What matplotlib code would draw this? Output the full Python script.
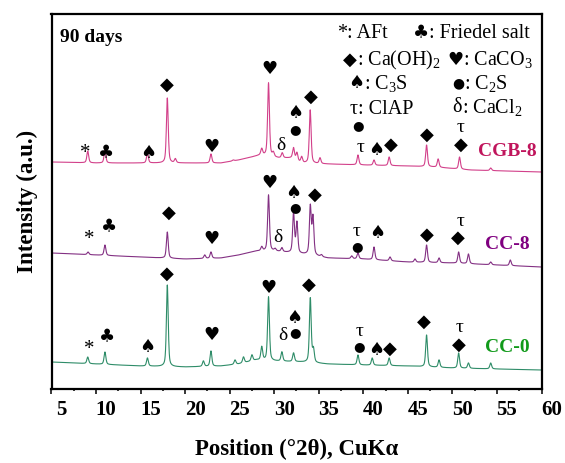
import matplotlib
matplotlib.use("Agg")
import matplotlib.pyplot as plt
import numpy as np
from matplotlib.ticker import MultipleLocator
from matplotlib.transforms import ScaledTranslation

plt.rcParams['font.family'] = ['Liberation Serif', 'DejaVu Sans']
plt.rcParams['mathtext.default'] = 'regular'

# ---- data (2theta in degrees, intensity in a.u. incl. offset) ----
tt = np.linspace(5, 60, 2751)

cgb8_base_x = [5, 10, 15, 20, 24, 26, 27.5, 28.5, 30.5, 32, 33, 36, 40, 45, 48, 52, 56, 60]
cgb8_base_y = [227, 226, 226, 226, 226, 229, 232, 234, 231, 231, 226, 225, 224, 223, 222, 219, 218, 217]
cgb8_pk_x = [9.07, 11.0, 15.77, 18.0, 18.9, 22.9, 25.4, 28.6, 29.36, 29.9, 30.9, 32.17, 32.55, 33.08,
             34.04, 35.14, 39.4, 41.2, 42.9, 47.1, 48.4, 50.8, 54.3]
cgb8_pk_y = [238, 239, 236, 291, 230, 235, 229, 240, 306, 236, 236, 241, 236, 232,
             279, 231, 234, 229, 232, 244, 230, 232, 221]

cc8_base_x = [5, 10, 15, 20, 24, 26, 28, 30, 32, 34, 36, 40, 45, 50, 55, 60]
cc8_base_y = [136, 134, 132, 130, 131, 134, 138, 138, 136, 134, 131, 130, 127, 126, 124, 122]
cc8_pk_x = [9.1, 11.0, 18.0, 22.2, 22.9, 28.6, 29.36, 30.1, 30.86, 32.17, 32.55, 34.05, 34.35,
            35.3, 38.7, 39.4, 41.2, 43.0, 45.8, 47.1, 48.5, 50.7, 51.8, 54.3, 56.5]
cc8_pk_y = [137, 144, 157, 134, 137, 142, 194, 140, 141, 176, 166, 182, 171,
            134, 133, 136, 142, 132, 130, 144, 131, 137, 135, 127, 129]

cc0_base_x = [5, 10, 15, 20, 24, 26, 28, 30, 33, 36, 40, 45, 50, 55, 60]
cc0_base_y = [27, 25, 23, 22, 23, 25, 29, 28, 27, 25, 24, 23, 21, 20, 19]
cc0_pk_x = [9.07, 11.0, 15.77, 18.0, 22.05, 22.9, 25.6, 26.55, 27.5, 28.6, 29.36, 30.86, 32.17,
            34.05, 34.4, 39.4, 41.0, 42.9, 47.1, 48.5, 50.7, 51.8, 54.3]
cc0_pk_y = [32, 37, 31, 104, 28, 38, 29, 32, 34, 42, 92, 37, 36,
            91, 39, 34, 31, 31, 54, 29, 36, 26, 26]

# phase marks: (symbol, 2theta, intensity)
cgb8_marks = [('*', 8.76, 238), ('♣', 11.12, 236), ('♠', 15.87, 236), ('◆', 18.0, 304),
              ('♥', 22.9, 242), ('♥', 29.45, 320), ('δ', 30.76, 243), ('♠', 32.41, 276),
              ('●', 32.33, 259), ('◆', 34.13, 292), ('●', 39.44, 263), ('τ', 39.74, 242),
              ('♠', 41.5, 239), ('◆', 43.07, 244), ('◆', 47.11, 254), ('τ', 50.96, 262),
              ('◆', 50.96, 244)]
cc8_marks = [('*', 9.21, 152), ('♣', 11.49, 162), ('◆', 18.19, 176), ('♥', 22.9, 150),
             ('♥', 29.45, 206), ('δ', 30.46, 151), ('♠', 32.1, 196), ('●', 32.33, 181),
             ('◆', 34.58, 194), ('τ', 39.29, 157), ('●', 39.29, 142), ('♠', 41.53, 156),
             ('◆', 47.15, 154), ('τ', 50.96, 167), ('◆', 50.63, 151)]
cc0_marks = [('*', 9.21, 42), ('♣', 11.2, 52), ('♠', 15.75, 42), ('◆', 18.0, 115),
             ('♥', 22.98, 54), ('♥', 29.33, 101), ('δ', 30.95, 53), ('♠', 32.25, 71),
             ('●', 32.33, 56), ('◆', 33.94, 104), ('τ', 39.52, 57), ('●', 39.52, 42),
             ('♠', 41.42, 39), ('◆', 43.0, 40), ('◆', 46.85, 67), ('τ', 50.77, 62),
             ('◆', 50.77, 44)]

names = ['CGB-8', 'CC-8', 'CC-0']
name_y = [237, 144, 42]
line_cols = ['#D2408A', '#833083', '#2E8C68']
name_cols = ['#C0155C', '#800080', '#119A1A']

W = 0.12  # peak half width (deg)


def pattern(bx, by, px, py):
    y = np.interp(tt, bx, by)
    for p, top in zip(px, py):
        h = top - np.interp(p, bx, by)
        d = (tt - p) / W
        y = y + h * (0.5 * np.exp(-np.log(2) * d**2) + 0.5 / (1 + d**2))
    return y


fig = plt.figure(figsize=(5.65, 4.63), dpi=100)
ax = fig.add_axes([51.5/565, 1 - 389/463, 490/565, 375/463])

curves = [pattern(cgb8_base_x, cgb8_base_y, cgb8_pk_x, cgb8_pk_y),
          pattern(cc8_base_x, cc8_base_y, cc8_pk_x, cc8_pk_y),
          pattern(cc0_base_x, cc0_base_y, cc0_pk_x, cc0_pk_y)]
for y, c in zip(curves, line_cols):
    ax.plot(tt, y, color=c, lw=0.8)


def mark(sym, x, y):
    if sym in '♣♠♥◆':
        ax.text(x, y, sym, family='DejaVu Sans', fontsize=13, ha='center', va='center')
    elif sym == '●':
        ax.text(x, y, sym, family='DejaVu Sans', fontsize=9.5, ha='center', va='center')
    elif sym == '*':
        ax.text(x, y - 3, sym, fontsize=15, ha='center', va='center')
    else:
        ax.text(x, y, sym, fontsize=14, ha='center', va='center')


for ms in [cgb8_marks, cc8_marks, cc0_marks]:
    for s, x, y in ms:
        mark(s, x, y)

for n, yy, c in zip(names, name_y, name_cols):
    ax.text(56.2, yy, n, color=c, fontsize=14, fontweight='bold', ha='center', va='center')

ax.text((60 - 51.5)/490, (389 - 38)/375, '90 days', transform=ax.transAxes,
        fontsize=14, fontweight='bold', ha='left', va='center')

# legend of phases
leg = [('*', ': AFt', 337, 33), ('♣', ': Friedel salt', 413, 33),
       ('◆', ': Ca(OH)$_2$', 343, 60), ('♥', ': CaCO$_3$', 447, 60),
       ('♠', ': C$_3$S', 348, 83), ('●', ': C$_2$S', 452, 83),
       ('τ', ': ClAP', 350, 110), ('δ', ': CaCl$_2$', 452, 107)]
for s, rest, lx, ly in leg:
    fam = 'DejaVu Sans' if s in '♣♠♥◆●' else 'Liberation Serif'
    fs = 10 if s == '●' else (13 if fam == 'DejaVu Sans' else 14.5)
    t = ax.text((lx - 51.5)/490, (389 - ly)/375, s, transform=ax.transAxes,
                family=fam, fontsize=fs, ha='left', va='center')
    ax.annotate(rest, xy=(1, 0.5), xycoords=t, fontsize=14.5, ha='left', va='center')

ax.set_xlim(5, 60)
ax.set_ylim(0, 375)
ax.set_yticks([])
ax.xaxis.set_major_locator(MultipleLocator(5))
ax.xaxis.set_minor_locator(MultipleLocator(2.5))
ax.tick_params(axis='x', which='major', direction='out', length=3.3, width=1.1,
               labelsize=15, pad=4.5)
ax.tick_params(axis='x', which='minor', direction='out', length=1.7, width=1.1)
for lab in ax.get_xticklabels():
    lab.set_fontweight('bold')
    lab.set_transform(lab.get_transform() + ScaledTranslation(0.1, 0, fig.dpi_scale_trans))
for sp in ax.spines.values():
    sp.set_linewidth(1.6)

ax.set_xlabel('Position (°2θ), CuKα', fontsize=16.5, fontweight='bold')
ax.set_ylabel('Intensity (a.u.)', fontsize=16.5, fontweight='bold')
ax.xaxis.set_label_coords(0.5, (389 - 439)/375)
ax.yaxis.set_label_coords((38 - 51.5)/490, 0.5)

fig.savefig('out.png', dpi=100)
